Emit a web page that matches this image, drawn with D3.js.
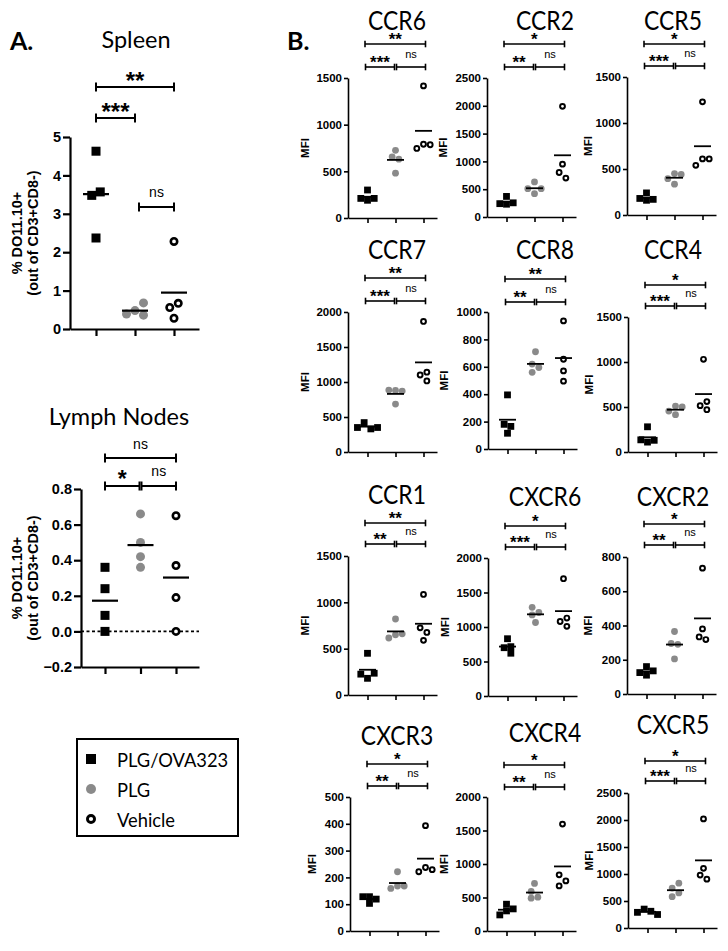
<!DOCTYPE html>
<html>
<head>
<meta charset="utf-8">
<script src="https://cdn.jsdelivr.net/npm/d3@7"></script>
<style>
  body { margin: 0; background: #fff; }
  svg { display: block; }
</style>
</head>
<body>
<div id="wrapper"></div>
<script>
// treatment groups (legend order)
const groups = ['PLG/OVA323', 'PLG', 'Vehicle']

// panel A: % DO11.10+ (out of CD3+CD8-), one array per group
const spleenValues = [
  [4.63, 3.48, 3.57, 2.37],
  [0.48, 0.36, 0.68, 0.39],
  [2.28, 0.56, 0.67, 0.28],
]
const lymphValues = [
  [0.36, 0.24, 0.09, 0.0],
  [0.66, 0.5, 0.42, 0.36],
  [0.65, 0.37, 0.19, 0.0],
]
const spleenTicks = [0, 1, 2, 3, 4, 5]
const lymphTicks = [-0.2, 0, 0.2, 0.4, 0.6, 0.8]
const spleenSig = ['**', '***', 'ns']
const lymphSig = ['ns', '*', 'ns']

// panel B: MFI per receptor, [PLG/OVA323, PLG, Vehicle]
const receptors = ['CCR6', 'CCR2', 'CCR5', 'CCR7', 'CCR8', 'CCR4',
  'CCR1', 'CXCR6', 'CXCR2', 'CXCR3', 'CXCR4', 'CXCR5']
const ccr6 = [[300, 190, 210, 210], [480, 725, 655, 630], [1415, 790, 785, 745]]
const ccr2 = [[370, 230, 255, 240], [630, 420, 510, 510], [1990, 950, 800, 700]]
const ccr5 = [[240, 160, 170, 180], [450, 440, 395, 335], [1230, 610, 610, 540]]
const ccr7 = [[420, 330, 350, 350], [880, 870, 885, 685], [1865, 1100, 1140, 1015]]
const ccr8 = [[395, 180, 165, 115], [710, 620, 595, 560], [935, 655, 570, 495]]
const ccr4 = [[280, 110, 130, 135], [510, 500, 455, 415], [1030, 515, 560, 470]]
const ccr1 = [[450, 180, 235, 225], [820, 650, 660, 615], [1085, 725, 675, 590]]
const cxcr6 = [[830, 700, 715, 620], [1285, 1210, 1175, 1065], [1700, 1080, 1130, 1010]]
const cxcr2 = [[160, 110, 135, 125], [365, 295, 290, 205], [735, 380, 333, 318]]
const cxcr3 = [[128, 103, 119, 128], [221, 168, 168, 159], [393, 237, 229, 221]]
const cxcr4 = [[400, 330, 300, 240], [710, 590, 505, 490], [1596, 838, 748, 673]]
const cxcr5 = [[350, 310, 290, 250], [740, 830, 650, 580], [2020, 1105, 980, 905]]
const mfiValues = [ccr6, ccr2, ccr5, ccr7, ccr8, ccr4, ccr1, cxcr6, cxcr2, cxcr3, cxcr4, cxcr5]

const mfiTicks = [
  [0, 500, 1000, 1500], [0, 500, 1000, 1500, 2000, 2500], [0, 500, 1000, 1500],
  [0, 500, 1000, 1500, 2000], [0, 200, 400, 600, 800, 1000], [0, 500, 1000, 1500],
  [0, 500, 1000, 1500], [0, 500, 1000, 1500, 2000], [0, 200, 400, 600, 800],
  [0, 100, 200, 300, 400, 500], [0, 500, 1000, 1500, 2000], [0, 500, 1000, 1500, 2000, 2500],
]
// [1 vs 3, 1 vs 2, 2 vs 3]
const mfiSig = [
  ['**', '***', 'ns'], ['*', '**', 'ns'], ['*', '***', 'ns'],
  ['**', '***', 'ns'], ['**', '**', 'ns'], ['*', '***', 'ns'],
  ['**', '**', 'ns'], ['*', '***', 'ns'], ['*', '**', 'ns'],
  ['*', '**', 'ns'], ['*', '**', 'ns'], ['*', '***', 'ns'],
]

const gray = '#8a8a8a'
const numFont = "'Liberation Sans', Arial, sans-serif"
const titleFont = "Lato, 'Open Sans', sans-serif"

// layout of the 12 small panels (axis origin, top, bottom, title and bracket rows)
const mfiLayout = [
  { x0: 348, top: 78, bottom: 218, titleY: 30, br1: 44, br2: 67, mfiDx: 39 },
  { x0: 487, top: 78, bottom: 217, titleY: 30, br1: 44, br2: 67, mfiDx: 40 },
  { x0: 627, top: 77, bottom: 215, titleY: 30, br1: 44, br2: 66, mfiDx: 35 },
  { x0: 348, top: 312, bottom: 452, titleY: 259, br1: 278, br2: 301, mfiDx: 39 },
  { x0: 488, top: 312, bottom: 449, titleY: 259, br1: 279, br2: 302, mfiDx: 40 },
  { x0: 628, top: 317, bottom: 452, titleY: 259, br1: 285, br2: 306, mfiDx: 35 },
  { x0: 348, top: 556, bottom: 695, titleY: 504, br1: 523, br2: 544, mfiDx: 39 },
  { x0: 488, top: 558, bottom: 696, titleY: 506, br1: 526, br2: 547, mfiDx: 39 },
  { x0: 627, top: 557, bottom: 694, titleY: 506, br1: 524, br2: 545, mfiDx: 35 },
  { x0: 350, top: 797, bottom: 931, titleY: 745, br1: 764, br2: 786, mfiDx: 34 },
  { x0: 487, top: 797, bottom: 931, titleY: 742, br1: 765, br2: 787, mfiDx: 39 },
  { x0: 628, top: 793, bottom: 928, titleY: 734, br1: 761, br2: 781, mfiDx: 35 },
]
const titleX = [397, 545, 673]

const svg = d3
  .select('#wrapper')
  .append('svg')
  .attr('width', 728)
  .attr('height', 951)

// spread points of one group sideways when they would overlap,
// then centre each row of touching points on the group position
function spread(values, y, step, minDist) {
  const placed = []
  values.forEach((v) => {
    const py = y(v)
    const tries = [0, step, -step, 2 * step, -2 * step, 3 * step, -3 * step]
    let off = tries[tries.length - 1]
    for (const t of tries) {
      if (placed.every((p) => Math.hypot(p.off - t, p.py - py) >= minDist)) {
        off = t
        break
      }
    }
    placed.push({ off, py, row: -1 })
  })
  let row = 0
  placed.forEach((p, i) => {
    if (p.row >= 0) return
    const stack = [i]
    p.row = row
    while (stack.length) {
      const a = placed[stack.pop()]
      placed.forEach((b, j) => {
        if (b.row < 0 && Math.abs(a.py - b.py) < minDist) {
          b.row = row
          stack.push(j)
        }
      })
    }
    row++
  })
  d3.range(row).forEach((r) => {
    const members = placed.filter((p) => p.row === r)
    const shift = (d3.min(members, (p) => p.off) + d3.max(members, (p) => p.off)) / 2
    members.forEach((p) => (p.off -= shift))
  })
  return placed.map((p) => p.off)
}

function marker(g, gi, cx, cy, s) {
  if (gi === 0) {
    g.append('rect')
      .attr('x', cx - s / 2)
      .attr('y', cy - s / 2)
      .attr('width', s)
      .attr('height', s)
      .attr('fill', '#000')
  } else if (gi === 1) {
    g.append('circle').attr('cx', cx).attr('cy', cy).attr('r', s / 2).attr('fill', gray)
  } else {
    const sw = s * 0.29
    g.append('circle')
      .attr('cx', cx)
      .attr('cy', cy)
      .attr('r', (s - sw) / 2)
      .attr('fill', '#fff')
      .attr('stroke', '#000')
      .attr('stroke-width', sw)
  }
}

function bracket(g, x1, x2, yb, label, o) {
  g.append('line')
    .attr('x1', x1).attr('x2', x2)
    .attr('y1', yb).attr('y2', yb)
    .attr('stroke', '#000').attr('stroke-width', o.sw)
  ;[x1, x2].forEach((xx) => {
    g.append('line')
      .attr('x1', xx).attr('x2', xx)
      .attr('y1', yb - o.cap).attr('y2', yb + o.cap)
      .attr('stroke', '#000').attr('stroke-width', o.sw)
  })
  const ns = label === 'ns'
  g.append('text')
    .attr('x', (x1 + x2) / 2)
    .attr('y', yb - (ns ? o.nsDy : o.starDy))
    .attr('text-anchor', 'middle')
    .attr('font-family', numFont)
    .attr('font-weight', ns ? 400 : 700)
    .attr('font-size', ns ? o.nsSize : o.starSize)
    .attr('fill', '#000')
    .text(label)
}

function styleAxis(ax, fontSize, sw) {
  ax.select('.domain').attr('stroke-width', sw)
  ax.selectAll('.tick line').attr('stroke-width', sw)
  ax.selectAll('.tick text')
    .attr('font-family', numFont)
    .attr('font-weight', 700)
    .attr('font-size', fontSize)
    .attr('fill', '#000')
}

// generic dot plot: groups on x, values on y, mean lines
function dotPlot(g, values, yScale, xScale, o) {
  values.forEach((vals, gi) => {
    const offs = spread(vals, yScale, o.step, o.minDist)
    vals.forEach((v, k) => marker(g, gi, xScale(gi) + offs[k], yScale(v), o.size))
  })
  values.forEach((vals, gi) => {
    const m = d3.mean(vals)
    g.append('line')
      .attr('x1', xScale(gi) - o.meanHalf)
      .attr('x2', xScale(gi) + o.meanHalf)
      .attr('y1', yScale(m)).attr('y2', yScale(m))
      .attr('stroke', '#000')
      .attr('stroke-width', o.meanSw)
  })
}

// ---------- panel A ----------
function drawPanelA(values, ticks, sig, L, fmt) {
  const g = svg.append('g')
  const y = d3.scaleLinear().domain([ticks[0], ticks[ticks.length - 1]]).range([L.bottom, L.top])
  const x = d3.scaleLinear()
    .domain([-L.tick0 / L.tickStep, (L.right - L.x0 - L.tick0) / L.tickStep])
    .range([L.x0, L.right])

  if (ticks[0] < 0) {
    g.append('line')
      .attr('x1', L.x0).attr('x2', L.right)
      .attr('y1', y(0)).attr('y2', y(0))
      .attr('stroke', '#000').attr('stroke-width', 1.6)
      .attr('stroke-dasharray', '3,2.5')
  }

  dotPlot(g, values, y, x, { size: 9, step: 8.5, minDist: 8.5, meanHalf: 13, meanSw: 2.2 })

  const ya = g.append('g')
    .attr('transform', `translate(${L.x0},0)`)
    .call(d3.axisLeft(y).tickValues(ticks).tickFormat(fmt).tickSize(7).tickSizeOuter(0).tickPadding(2))
  styleAxis(ya, 14.5, 2.2)
  const xa = g.append('g')
    .attr('transform', `translate(0,${L.bottom})`)
    .call(d3.axisBottom(x).tickValues([0, 1, 2]).tickFormat('').tickSize(7).tickSizeOuter(0))
  styleAxis(xa, 14.5, 2.2)

  const o = { sw: 2, cap: 4.5, starDy: L.starDy, nsDy: 10, starSize: L.starSize, nsSize: 14 }
  bracket(g, x(0), x(2), L.brTop, sig[0], Object.assign({}, o, { nsDy: 9 }))
  if (L.splitInner) {
    bracket(g, x(0), x(1) - 1, L.brInner, sig[1], o)
    bracket(g, x(1) + 1, x(2), L.brInner, sig[2], o)
  } else {
    bracket(g, x(0), x(1), L.brInner, sig[1], o)
    bracket(g, x(1) + 4, x(2), L.brNs, sig[2], o)
  }

  // y label, two lines
  const cy = (L.top + L.bottom) / 2
  ;['% DO11.10+', '(out of CD3+CD8-)'].forEach((t, i) => {
    g.append('text')
      .attr('transform', `translate(${22 + i * 15.5},${cy}) rotate(-90)`)
      .attr('text-anchor', 'middle')
      .attr('font-family', numFont)
      .attr('font-weight', 700)
      .attr('font-size', 14.5)
      .text(t)
  })

  g.append('text')
    .attr('x', L.titleX).attr('y', L.titleY)
    .attr('text-anchor', 'middle')
    .attr('font-family', titleFont)
    .attr('font-size', 23.5)
    .text(L.title)
}

drawPanelA(spleenValues, spleenTicks, spleenSig,
  { x0: 70, top: 137, bottom: 329, right: 199, tick0: 26, tickStep: 39,
    brTop: 87, brInner: 118, brNs: 207, starDy: -2, starSize: 24, splitInner: false,
    title: 'Spleen', titleX: 136, titleY: 48 },
  d3.format('d'))

drawPanelA(lymphValues, lymphTicks, lymphSig,
  { x0: 81, top: 489, bottom: 667, right: 199, tick0: 24, tickStep: 35.5,
    brTop: 458, brInner: 486, starDy: -0.5, starSize: 23, splitInner: true,
    title: 'Lymph Nodes', titleX: 119, titleY: 425 },
  d3.format('.1f'))

// panel letters
;[['A.', 10], ['B.', 287]].forEach(([t, xx]) => {
  svg.append('text')
    .attr('x', xx).attr('y', 50)
    .attr('font-family', titleFont)
    .attr('font-weight', 700)
    .attr('font-size', 25)
    .text(t)
})

// legend
const legend = svg.append('g')
legend.append('rect')
  .attr('x', 77).attr('y', 739)
  .attr('width', 161).attr('height', 97)
  .attr('fill', 'none').attr('stroke', '#000').attr('stroke-width', 2)
groups.forEach((name, i) => {
  marker(legend, i, 91, 759 + i * 30, 10)
  legend.append('text')
    .attr('transform', `translate(117,${766.5 + i * 30}) scale(0.94,1)`)
    .attr('font-family', titleFont)
    .attr('font-size', 19.5)
    .text(name)
})

// ---------- panel B ----------
receptors.forEach((name, idx) => {
  const L = mfiLayout[idx]
  const ticks = mfiTicks[idx]
  const g = svg.append('g')
  const y = d3.scaleLinear().domain([0, ticks[ticks.length - 1]]).range([L.bottom, L.top])
  const x = d3.scaleLinear().domain([-19.5 / 28, (89 - 19.5) / 28]).range([L.x0, L.x0 + 89])

  dotPlot(g, mfiValues[idx], y, x, { size: 6.8, step: 6.7, minDist: 6.5, meanHalf: 8.5, meanSw: 1.8 })

  const ya = g.append('g')
    .attr('transform', `translate(${L.x0},0)`)
    .call(d3.axisLeft(y).tickValues(ticks).tickFormat(d3.format('d')).tickSize(4).tickSizeOuter(0).tickPadding(2))
  styleAxis(ya, 11.5, 1.6)
  const xa = g.append('g')
    .attr('transform', `translate(0,${L.bottom})`)
    .call(d3.axisBottom(x).tickValues([0, 1, 2]).tickFormat('').tickSize(5).tickSizeOuter(0))
  styleAxis(xa, 11.5, 1.6)

  const sig = mfiSig[idx]
  const o = { sw: 1.6, cap: 3.3, starDy: -1, nsDy: 9, starSize: 17, nsSize: 11 }
  bracket(g, x(0) - 2.5, x(2) + 2, L.br1, sig[0], o)
  bracket(g, x(0) - 2, x(1) - 1, L.br2, sig[1], o)
  bracket(g, x(1) + 1, x(2) + 2, L.br2, sig[2], o)

  g.append('text')
    .attr('transform', `translate(${L.x0 - L.mfiDx},${(L.top + L.bottom) / 2}) rotate(-90)`)
    .attr('text-anchor', 'middle')
    .attr('font-family', numFont)
    .attr('font-weight', 700)
    .attr('font-size', 11.5)
    .text('MFI')

  // receptor title, slightly condensed like the original
  g.append('text')
    .attr('transform', `translate(${titleX[idx % 3]},${L.titleY}) scale(0.88,1)`)
    .attr('text-anchor', 'middle')
    .attr('font-family', titleFont)
    .attr('font-size', 26)
    .text(name)
})
</script>
</body>
</html>
